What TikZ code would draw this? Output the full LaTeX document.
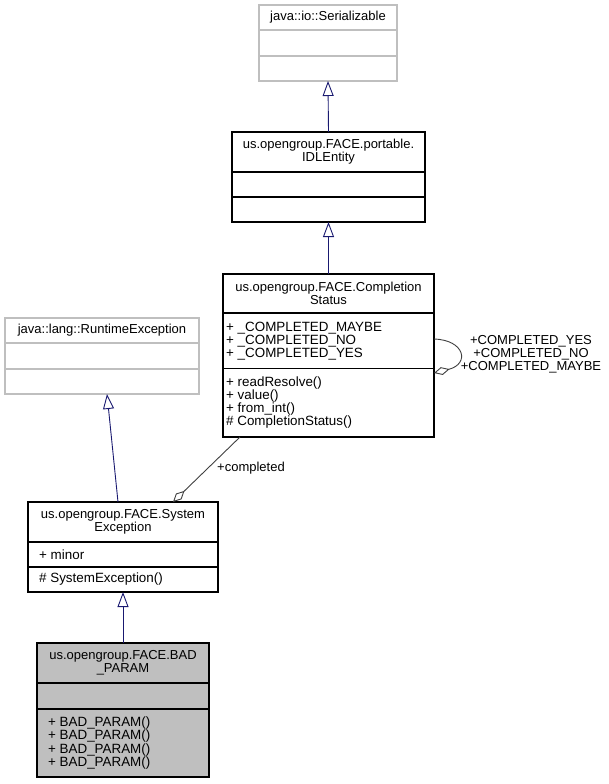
\documentclass[tikz,border=0pt]{standalone}
\usepackage{fontspec}
\setmainfont{Liberation Sans}
\usetikzlibrary{arrows.meta}
\definecolor{edgeblue}{HTML}{191970}
\definecolor{edgegrey}{HTML}{404040}
\definecolor{extgrey}{HTML}{BFBFBF}
\definecolor{curfill}{HTML}{BFBFBF}
\begin{document}
\begin{tikzpicture}[x=1bp,y=-1bp,
  font=\fontsize{13bp}{13.2bp}\selectfont,
  cls/.style={draw=black,line width=1.2bp,rectangle,outer sep=0pt,inner sep=0pt},
  extcls/.style={draw=extgrey,line width=1.2bp,rectangle,outer sep=0pt,inner sep=0pt},
  divider/.style={draw=black,line width=1.2bp},
  extdivider/.style={draw=extgrey,line width=1.2bp},
  ttl/.style={inner sep=0pt,align=center,anchor=center},
  fld/.style={inner sep=0pt,align=left,anchor=west,font=\fontsize{13.4bp}{13.2bp}\selectfont},
  inh/.style={draw=edgeblue,line width=0.9bp,-{Triangle[open,length=15bp,width=11bp,fill=white]}},
  agg/.style={draw=edgegrey,line width=0.9bp,-{Diamond[open,length=16bp,width=8bp,fill=white]}},
  elabel/.style={inner sep=0pt,align=center}
]
\useasboundingbox (0,0) rectangle (609,784);

% java::io::Serializable
\node[extcls,minimum width=138bp,minimum height=76bp] (ser) at (328,43) {};
\draw[extdivider] (ser.west |- 0,30) -- (ser.east |- 0,30);
\draw[extdivider] (ser.west |- 0,56) -- (ser.east |- 0,56);
\node[ttl] (sert) at (328,17.5) {java::io::Serializable};

% IDLEntity
\node[cls,minimum width=193bp,minimum height=90bp] (idl) at (328.5,177) {};
\draw[divider] (idl.west |- 0,172) -- (idl.east |- 0,172);
\draw[divider] (idl.west |- 0,197) -- (idl.east |- 0,197);
\node[ttl] (idlt) at (328.5,152) {us.opengroup.FACE.portable.\\IDLEntity};

% CompletionStatus
\node[cls,minimum width=211bp,minimum height=163bp] (cs) at (328.5,355.5) {};
\draw[divider] (cs.west |- 0,313) -- (cs.east |- 0,313);
\draw[divider] (cs.west |- 0,368.5) -- (cs.east |- 0,368.5);
\node[ttl] (cst) at (328.5,293.5) {us.opengroup.FACE.Completion\\Status};
\node[fld] (csa) at (226,341) {+ \_COMPLETED\_MAYBE\\+ \_COMPLETED\_NO\\+ \_COMPLETED\_YES};
\node[fld] (csm) at (226,402.5) {+ readResolve()\\+ value()\\+ from\_int()\\\# CompletionStatus()};

% java::lang::RuntimeException
\node[extcls,minimum width=194bp,minimum height=76bp] (rt) at (102,356) {};
\draw[extdivider] (rt.west |- 0,343) -- (rt.east |- 0,343);
\draw[extdivider] (rt.west |- 0,369) -- (rt.east |- 0,369);
\node[ttl] (rtt) at (102,330.5) {java::lang::RuntimeException};

% SystemException
\node[cls,minimum width=190bp,minimum height=90bp] (se) at (123,547) {};
\draw[divider] (se.west |- 0,542) -- (se.east |- 0,542);
\draw[divider] (se.west |- 0,567) -- (se.east |- 0,567);
\node[ttl] (set) at (123,522) {us.opengroup.FACE.System\\Exception};
\node[fld] (sea) at (39,554.5) {+ minor};
\node[fld] (sem) at (39,579.5) {\# SystemException()};

% BAD_PARAM
\node[cls,fill=curfill,minimum width=172bp,minimum height=134bp] (bad) at (123,710) {};
\draw[divider] (bad.west |- 0,683) -- (bad.east |- 0,683);
\draw[divider] (bad.west |- 0,709) -- (bad.east |- 0,709);
\node[ttl] (badt) at (123,663) {us.opengroup.FACE.BAD\\\_PARAM};
\node[fld] (badm) at (48,743) {+ BAD\_PARAM()\\+ BAD\_PARAM()\\+ BAD\_PARAM()\\+ BAD\_PARAM()};

% inheritance
\draw[inh] (idl.north) -- (ser.south);
\draw[inh] (cs.north) -- (idl.south);
\draw[inh] ([xshift=-5bp]se.north) -- ([xshift=5bp]rt.south);
\draw[inh] (bad.north) -- (se.south);

% aggregation
\draw[agg] ([xshift=-88.5bp]cs.south) -- ([xshift=50bp]se.north);
\node[elabel] (lcompleted) at (251,468) {+completed};

% self aggregation
\draw[agg] ([yshift=16.5bp]cs.east) .. controls (465,340) and (470,364) .. ([yshift=-17.5bp]cs.east);
\node[elabel] (lself) at (531,354.5) {+COMPLETED\_YES\\+COMPLETED\_NO\\+COMPLETED\_MAYBE};
\end{tikzpicture}
\end{document}
